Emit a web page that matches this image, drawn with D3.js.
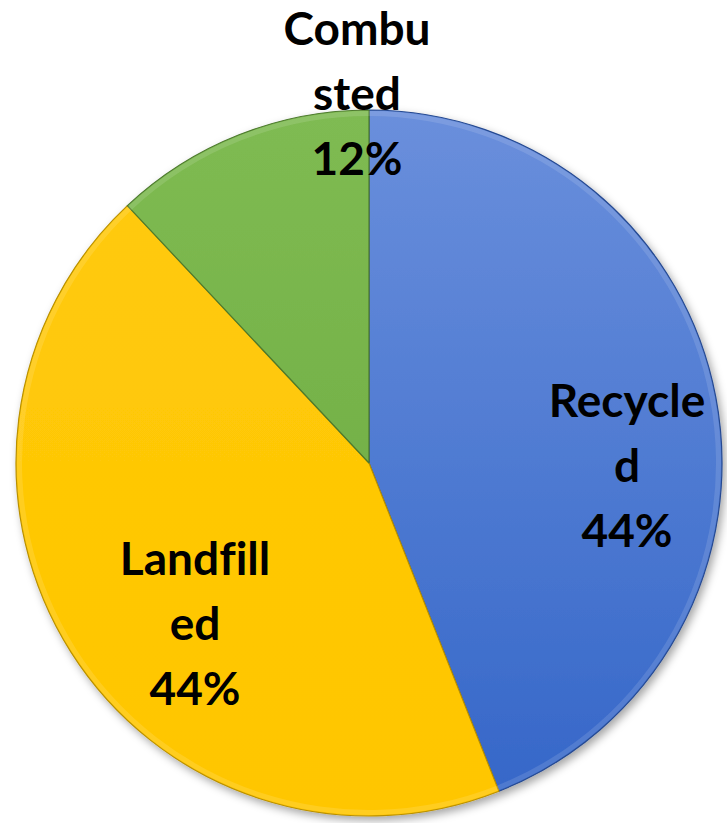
<!DOCTYPE html>
<html>
<head>
<meta charset="utf-8">
<script src="https://cdn.jsdelivr.net/npm/d3@7/dist/d3.min.js"></script>
<style>
  html, body { margin: 0; padding: 0; background: #fff; }
  svg { display: block; }
  text { font-variant-ligatures: none; }
</style>
</head>
<body>
<svg id="chart" width="727" height="823"></svg>
<script>
// Waste disposal shares
const categories = ["Recycled", "Landfilled", "Combusted"];
const shares = [44, 44, 12];
// Wrapped label lines as shown inside each slice
const labelLines = [["Recycle", "d"], ["Landfill", "ed"], ["Combu", "sted"]];
const colorsLight = ["#6a8fdc", "#ffca0c", "#7fbb52"];
const colorsDark = ["#3466c8", "#ffc600", "#6aa83f"];

const svg = d3.select("#chart");
const cx = 369, cy = 463, r = 353;

const defs = svg.append("defs");
const shadow = defs.append("filter").attr("id", "shadow")
  .attr("x", "-10%").attr("y", "-10%").attr("width", "120%").attr("height", "120%");
shadow.append("feDropShadow").attr("dx", 3).attr("dy", 4).attr("stdDeviation", 4)
  .attr("flood-color", "#000").attr("flood-opacity", 0.35);

// vertical shading for each slice, in the pie group's own coordinates
categories.forEach((c, i) => {
  const g = defs.append("linearGradient").attr("id", "grad" + i)
    .attr("gradientUnits", "userSpaceOnUse")
    .attr("x1", 0).attr("y1", -r).attr("x2", 0).attr("y2", r);
  g.append("stop").attr("offset", "0%").attr("stop-color", colorsLight[i]);
  g.append("stop").attr("offset", "100%").attr("stop-color", colorsDark[i]);
});

const pie = d3.pie().sort(null).value(d => d);
const arcs = pie(shares);
const arc = d3.arc().innerRadius(0).outerRadius(r);
const rim = d3.arc().innerRadius(r - 6).outerRadius(r - 1);

const g = svg.append("g").attr("transform", `translate(${cx},${cy})`);

g.append("g").attr("filter", "url(#shadow)")
  .selectAll("path").data(arcs).join("path")
  .attr("d", arc)
  .attr("fill", (d, i) => `url(#grad${i})`)
  .attr("stroke", (d, i) => d3.color(colorsDark[i]).darker(0.9))
  .attr("stroke-width", 1.2)
  .attr("stroke-linejoin", "round");

// soft bevel highlight along the outer rim
g.append("g").selectAll("path").data(arcs).join("path")
  .attr("d", rim)
  .attr("fill", "#fff")
  .attr("opacity", 0.12);

// labels
const labelPos = [[258, -46], [-174, 112], [-12, -418]];
const lineGap = 65;
const labels = g.append("g")
  .attr("font-family", "Lato, 'Open Sans', sans-serif")
  .attr("font-weight", 700)
  .attr("font-size", 46)
  .attr("fill", "#000")
  .attr("text-anchor", "middle");

arcs.forEach((a, i) => {
  const lines = labelLines[i].concat([d3.format(".0f")(a.data) + "%"]);
  const t = labels.append("text")
    .attr("x", labelPos[i][0]).attr("y", labelPos[i][1]);
  lines.forEach((ln, k) => {
    t.append("tspan").attr("x", labelPos[i][0]).attr("y", labelPos[i][1] + k * lineGap).text(ln);
  });
});
</script>
</body>
</html>
